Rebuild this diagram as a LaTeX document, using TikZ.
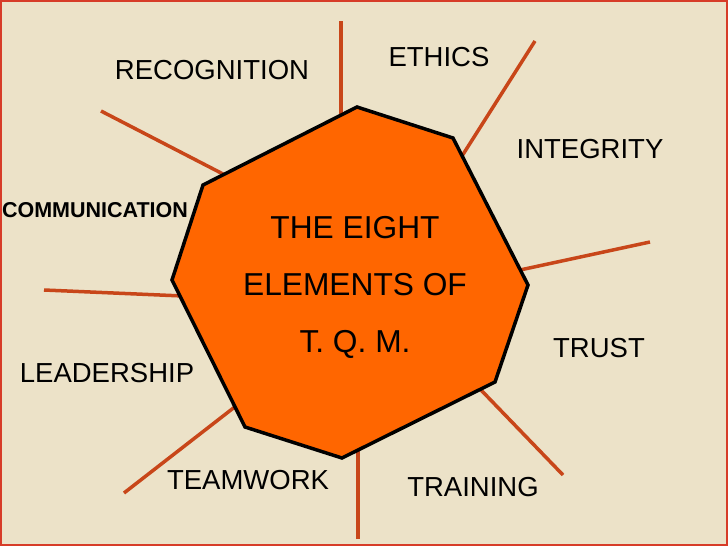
\documentclass[tikz,border=0pt]{standalone}
\usepackage{fontspec}
\setmainfont{Liberation Sans}

\definecolor{parchment}{RGB}{236,226,200}
\definecolor{tqmorange}{RGB}{255,102,0}
\definecolor{spokered}{RGB}{200,70,25}
\definecolor{framered}{RGB}{215,60,40}

\begin{document}
\begin{tikzpicture}[x=1pt,y=-1pt,
    spoke/.style={draw=spokered, line width=3.5pt},
    element/.style={font=\fontsize{27.5}{33}\selectfont, inner sep=0pt},
  ]

    % Page and frame
    \useasboundingbox (0,0) rectangle (728,546);
    \fill[parchment] (0,0) rectangle (728,546);
    \draw[framered, line width=2pt] (1,1) rectangle (727,545);

    % Corners of the octagon, clockwise from the top
    \coordinate (P1) at (357,107);
    \coordinate (P2) at (453,138);
    \coordinate (P3) at (528,285);
    \coordinate (P4) at (495,382);
    \coordinate (P5) at (342,458);
    \coordinate (P6) at (245,427);
    \coordinate (P7) at (172,280);
    \coordinate (P8) at (203,185);

    % Outer and inner ends of the eight spokes
    \coordinate (topout) at (341,21);       \coordinate (topin) at (341,118);
    \coordinate (ethout) at (535,41);       \coordinate (ethin) at (462,156);
    \coordinate (truout) at (650,242);      \coordinate (truin) at (520,270);
    \coordinate (traout) at (563,475);      \coordinate (train) at (481,390);
    \coordinate (botout) at (358,539);      \coordinate (botin) at (358,448);
    \coordinate (teaout) at (124,493);      \coordinate (teain) at (236,406);
    \coordinate (leaout) at (44,290);       \coordinate (leain) at (183,296);
    \coordinate (recout) at (101,111);      \coordinate (recin) at (223,174);

    % Draw the spokes (under the octagon)
    \foreach \s in {top,eth,tru,tra,bot,tea,lea,rec}
        \draw[spoke] (\s out) -- (\s in);

    % Draw the octagon
    \filldraw[fill=tqmorange, draw=black, line width=3.5pt, line join=miter]
        (P1) -- (P2) -- (P3) -- (P4) -- (P5) -- (P6) -- (P7) -- (P8) -- cycle;

    % Title in the middle
    \node[inner sep=0pt, align=center, font=\fontsize{31.7}{57}\selectfont] (title)
        at (355,287.5) {THE EIGHT\\ELEMENTS OF\\T. Q. M.};

    % Labels for the eight elements
    \node[element] (recognition) at (212,70) {RECOGNITION};
    \node[element] (ethics) at (439,57) {ETHICS};
    \node[element] (integrity) at (590,149) {INTEGRITY};
    \node[inner sep=0pt, font=\bfseries\fontsize{21.5}{26}\selectfont] (communication)
        at (95,210) {COMMUNICATION};
    \node[element] (trust) at (599,348) {TRUST};
    \node[element] (leadership) at (107,373) {LEADERSHIP};
    \node[element] (teamwork) at (248,480) {TEAMWORK};
    \node[element] (training) at (473,487) {TRAINING};

\end{tikzpicture}
\end{document}
